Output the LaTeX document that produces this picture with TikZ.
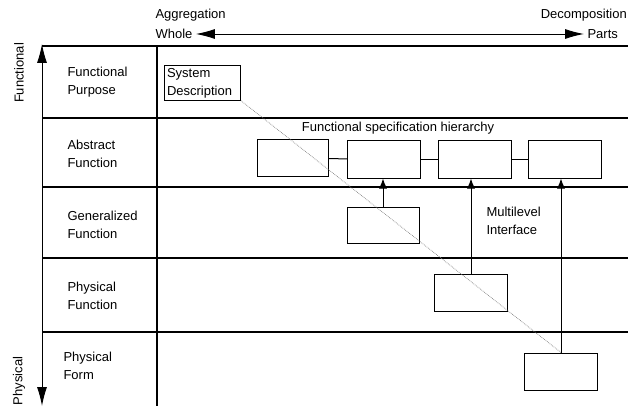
\documentclass[tikz,border=0pt]{standalone}
\usepackage{fontspec}
\setmainfont{Liberation Sans}
\usepackage{tikz}
\usetikzlibrary{arrows.meta, calc, positioning}

\tikzset{
  lvl/.style={anchor=west, align=left, font=\fontsize{13}{18}\selectfont},
  blk/.style={draw, line width=1pt, minimum width=73pt, minimum height=37pt, inner sep=0pt},
  link/.style={line width=1pt},
  up/.style={line width=1pt, -{Latex[length=10pt, width=8pt]}},
  grid/.style={line width=1.1pt},
  bigarr/.style={line width=0.9pt, {Latex[length=19pt, width=10pt]}-{Latex[length=19pt, width=10pt]}}
}

\begin{document}
\begin{tikzpicture}[x=1pt, y=-1pt]
\useasboundingbox (0,0) rectangle (628,406);
% table lines
\draw[grid] (42,46) -- (628,46);
\draw[grid] (42,118) -- (628,118);
\draw[grid] (42,187) -- (628,187);
\draw[grid] (42,258) -- (628,258);
\draw[grid] (42,332) -- (628,332);
\draw[grid] (157,46) -- (157,406);
\coordinate (ftop) at (42,44);
\coordinate (pbot) at (42,406);
\draw[bigarr] (ftop) -- (pbot);

% axis labels
\node[font=\fontsize{13}{14}\selectfont, rotate=90] (func) at (19,73) {Functional};
\node[font=\fontsize{13}{14}\selectfont, rotate=90] (phys) at (19,381) {Physical};
\node[lvl] (aggr) at (152,15) {Aggregation};
\node[lvl] (whole) at (152,34) {Whole};
\node[lvl, anchor=east, inner sep=1pt] (decomp) at (628,15) {Decomposition};
\node[lvl] (parts) at (584,34) {Parts};
\draw[bigarr] (whole.east) -- (parts.west);

% levels
\node[lvl] (fp) at (64,82) {Functional\\Purpose};
\node[lvl] (af) at (64,154) {Abstract\\Function};
\node[lvl] (gf) at (64,225) {Generalized\\Function};
\node[lvl] (pf) at (64,296) {Physical\\Function};
\node[lvl] (pfo) at (60,366) {Physical\\Form};

% boxes
\node[draw, line width=1pt, anchor=north west, align=left, text width=71pt, inner sep=2.5pt,
  font=\fontsize{13}{18}\selectfont] (sysdesc) at (164,65) {System\\Description};
\node[blk, minimum width=71pt] (afa) at (292.5,158) {};
\node[blk] (afb) at (384,159.5) {};
\node[blk] (afc) at (475,159.5) {};
\node[blk] (afd) at (565,159.5) {};
\node[blk, minimum width=72pt, minimum height=36pt] (gfa) at (383,225) {};
\node[blk] (pfa) at (471,293) {};
\node[blk] (pfoa) at (561,371.5) {};

\node[font=\fontsize{13}{14}\selectfont] (fsh) at (398,128) {Functional specification hierarchy};
\node[lvl, anchor=west] (mli) at (483,221) {Multilevel\\Interface};

% connectors
\draw[link] (afa) -- (afb);
\draw[link] (afb) -- (afc);
\draw[link] (afc) -- (afd);
\draw[up] (gfa.north) -- (gfa.north |- afb.south);
\draw[up] (pfa.north) -- (pfa.north |- afc.south);
\draw[up] (pfoa.north) -- (pfoa.north |- afd.south);
\draw[densely dotted, gray, line width=0.7pt] (sysdesc.south east) -- (pfoa.north);
\end{tikzpicture}
\end{document}
